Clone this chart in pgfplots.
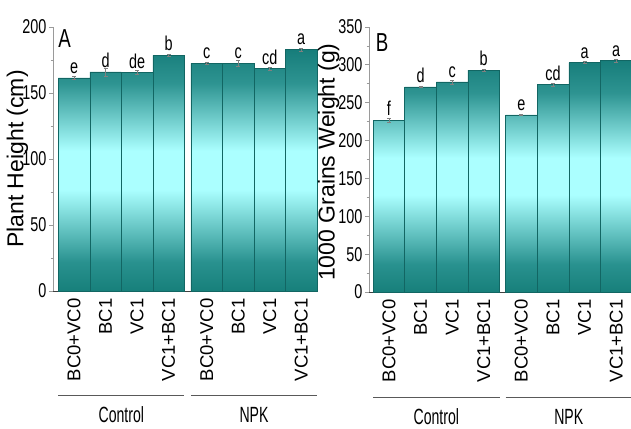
\documentclass[border=0pt]{standalone}
\usepackage{pgfplots}
\pgfplotsset{compat=1.18}
\usepackage{pgfplotstable}
\usepackage{fontspec}
\setmainfont{Liberation Sans}
\newfontfamily\narrow[FakeStretch=0.72]{Liberation Sans}
\newfontfamily\grpfont[FakeStretch=0.64]{Liberation Sans}
\definecolor{bardark}{HTML}{17807C}
\definecolor{axgray}{HTML}{9A9A9A}

% vertical shading: dark at bottom and top, light cyan in the middle
\pgfdeclareverticalshading{barshade}{100bp}{%
  rgb(0bp)=(0.09,0.50,0.48); rgb(25bp)=(0.09,0.50,0.48);
  rgb(31bp)=(0.16,0.57,0.56); rgb(46bp)=(0.67,1,1); rgb(54bp)=(0.67,1,1);
  rgb(68bp)=(0.18,0.58,0.57); rgb(75bp)=(0.09,0.49,0.48); rgb(100bp)=(0.09,0.49,0.48)}

\pgfplotstableread{
x     y      e    l
0     161.5  1.0  e
1     166    3.0  d
2     165.5  1.5  de
3     178.5  1.0  b
4.21  172.5  1.0  c
5.21  172.5  2.5  c
6.21  168.5  1.0  cd
7.21  183    1.0  a
}\heightdata

\pgfplotstableread{
x     y      e    l
0     227    2.5  f
1     271    1.0  d
2     277.5  2.5  c
3     293    1.5  b
4.19  234    1.0  e
5.19  274    2.0  cd
6.19  303    1.5  a
7.19  305.5  1.5  a
}\grainsdata

\tikzset{grouplab/.style={font=\grpfont\fontsize{22}{22}\selectfont}}

\pgfplotsset{
  panel/.style={
    scale only axis,
    anchor=south west,
    axis lines*=left,
    ybar, bar width=1,
    ymin=0,
    xtick=data,
    xticklabels={BC0+VC0,BC1,VC1,VC1+BC1,BC0+VC0,BC1,VC1,VC1+BC1},
    xticklabel style={rotate=90, anchor=east, font=\fontsize{18.5}{18.5}\selectfont},
    xtick style={draw=none},
    x axis line style={black!75, line width=0.9pt},
    y axis line style={axgray, line width=0.8pt},
    ytick style={axgray, line width=0.8pt},
    minor y tick num=1,
    tick align=outside,
    major tick length=4pt, minor tick length=2.5pt,
    yticklabel style={font=\narrow\fontsize{20}{20}\selectfont, xshift=1pt},
    /pgf/number format/assume math mode=true,
    every axis y label/.style={rotate=90, anchor=center, font=\fontsize{23}{23}\selectfont},
    nodes near coords,
    point meta=explicit symbolic,
    nodes near coords style={font=\narrow\fontsize{20}{20}\selectfont, anchor=south, inner sep=2pt, yshift=2pt},
    clip=false,
  },
  bars/.style={draw=bardark!80!black, line width=0.5pt, shading=barshade, shade,
    error bars/.cd, y dir=both, y explicit,
    error bar style={gray, line width=0.5pt},
    error mark options={rotate=90, mark size=2pt, gray, line width=0.5pt}},
}

\begin{document}
\begin{tikzpicture}
\useasboundingbox (0,0) rectangle (631pt,428pt);

% Panel A
\begin{axis}[panel,
  at={(53pt,137pt)}, width=264pt, height=264pt,
  xmin=-0.67, xmax=7.71, ymax=200,
  ytick={0,50,100,150,200},
  ylabel={Plant Height (cm)},
  ylabel style={at={(axis description cs:-0.135,0.5)}},
]
\addplot[bars] table[x=x, y=y, y error=e, meta=l] {\heightdata};
\node[anchor=north west, font=\narrow\fontsize{26}{26}\selectfont, inner sep=0pt] at (axis description cs:0.02,0.99) {A};
\draw[black!65, line width=0.9pt] ([yshift=-104pt]axis cs:-0.5,0) -- ([yshift=-104pt]axis cs:3.5,0);
\draw[black!65, line width=0.9pt] ([yshift=-104pt]axis cs:3.71,0) -- ([yshift=-104pt]axis cs:7.71,0);
\node[grouplab] at ([yshift=-124pt]axis cs:1.5,0) {Control};
\node[grouplab] at ([yshift=-124pt]axis cs:5.71,0) {NPK};
\end{axis}

% Panel B
\begin{axis}[panel,
  at={(369pt,136pt)}, width=263pt, height=265pt,
  xmin=-0.63, xmax=7.69, ymax=350,
  ytick={0,50,100,150,200,250,300,350},
  ylabel={1000 Grains Weight (g)},
  ylabel style={at={(axis description cs:-0.153,0.49)}},
]
\addplot[bars] table[x=x, y=y, y error=e, meta=l] {\grainsdata};
\node[anchor=north west, font=\narrow\fontsize{26}{26}\selectfont, inner sep=0pt] at (axis description cs:0.025,0.975) {B};
\draw[black!65, line width=0.9pt] ([yshift=-105pt]axis cs:-0.5,0) -- ([yshift=-105pt]axis cs:3.5,0);
\draw[black!65, line width=0.9pt] ([yshift=-105pt]axis cs:3.69,0) -- ([yshift=-105pt]axis cs:7.69,0);
\node[grouplab] at ([yshift=-125pt]axis cs:1.5,0) {Control};
\node[grouplab] at ([yshift=-125pt]axis cs:5.69,0) {NPK};
\end{axis}
\end{tikzpicture}
\end{document}
